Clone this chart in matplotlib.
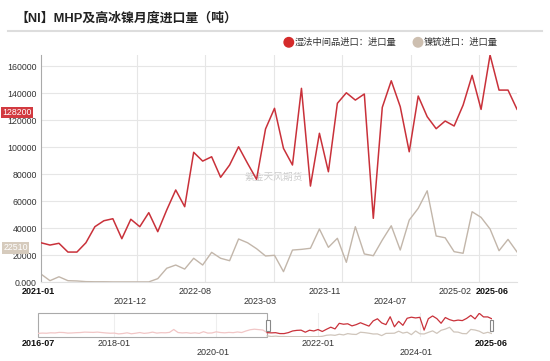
import matplotlib
matplotlib.use('Agg')
import matplotlib.pyplot as plt
from matplotlib.patches import Rectangle, Ellipse
from matplotlib.lines import Line2D
import numpy as np
import pandas as pd

plt.rcParams['font.family'] = ['Liberation Sans', 'Noto Sans CJK SC']

# monthly data, 2016-07 .. 2025-06
months = pd.date_range('2016-07-01', periods=108, freq='MS')
mhp_early = [24000, 26000, 25000, 28000, 27000, 31000,
             30000, 26000, 27000, 29000, 30000, 33000, 32000, 31000, 33000, 30000, 27000, 25000,
             26000, 20000, 23000, 28000, 21000, 25000, 30000, 24000, 27000, 33000, 26000, 29000,
             28000, 31000, 52000, 30000, 27000, 29000, 25000, 28000, 24000, 36000, 26000, 27000,
             35000, 30000, 28000, 31000, 29000, 34000, 30000, 41000, 50000, 54000, 51000, 48000]
mhp = [29300, 27600, 28900, 22400, 22400, 29300, 41200, 45600, 47100, 32300,
       46700, 41200, 51600, 37500, 53600, 68400, 56000, 96300, 89800, 93000,
       77800, 86900, 100400, 88100, 76300, 113600, 128900, 99200, 86900, 143700,
       71300, 110400, 81900, 132600, 140400, 135000, 139500, 47400, 129600, 149300,
       130100, 96700, 138000, 122700, 113800, 119500, 115800, 131300, 153300, 128100,
       168400, 142400, 142400, 128200]
matte = [6100, 1200, 4100, 1200, 1000, 500, 400, 400, 300, 300,
         300, 300, 300, 2700, 10400, 12800, 9800, 17800, 12800, 22200,
         17800, 16000, 32100, 29300, 24900, 19500, 20000, 7900, 23900, 24400,
         25200, 39500, 25900, 32600, 14800, 41200, 21000, 19700, 31300, 41900,
         23900, 46100, 54800, 67800, 34300, 33000, 22700, 21500, 52300, 48100,
         39500, 23400, 31800, 22510]

title = '【NI】MHP及高冰镍月度进口量（吨）'
name_mhp = '湿法中间品进口：进口量'
name_matte = '镍锍进口：进口量'
watermark = '紫金天风期货'

main_row1 = ['2021-01', '2022-08', '2023-11', '2025-02', '2025-06']
main_row2 = ['2021-12', '2023-03', '2024-07']
slider_row1 = ['2016-07', '2018-01', '2022-01', '2025-06']
slider_row2 = ['2020-01', '2024-01']

RED = '#c9313a'
GREY = '#c2b6aa'
TXT = '#333333'
W, H = 550, 361


def box(x0, y0, x1, y1):
    return [x0 / W, 1 - y1 / H, (x1 - x0) / W, (y1 - y0) / H]


fig = plt.figure(figsize=(5.5, 3.61), dpi=100)

# title + separator
fig.text(15 / W, 1 - 18.7 / H, title, fontsize=9.3, fontweight='bold', color='#222222', va='center')
fig.add_artist(Line2D([8 / W, 542 / W], [1 - 31 / H] * 2, color='#dddddd', lw=1.5))

# legend
fig.add_artist(Ellipse((288.8 / W, 1 - 42.3 / H), 9.5 / W, 9.5 / H, color='#d42a2a'))
fig.text(295 / W, 1 - 42.3 / H, name_mhp, fontsize=6.7, color=TXT, va='center')
fig.add_artist(Ellipse((418 / W, 1 - 42.3 / H), 9.5 / W, 9.5 / H, color='#cdbfb0'))
fig.text(424 / W, 1 - 42.3 / H, name_matte, fontsize=6.7, color=TXT, va='center')

# main chart
ax = fig.add_axes(box(41, 55, 517, 282.3))
n = len(mhp)
xi = np.arange(n)
ax.plot(xi, mhp, color=RED, lw=1.1, zorder=3)
ax.plot(xi, matte, color=GREY, lw=1.0, zorder=2)
ax.set_xlim(0, n - 1)
ax.set_ylim(0, max(mhp))

ax.set_yticks(np.arange(0, 160001, 20000))
ax.yaxis.set_major_formatter(lambda v, p: '0.000' if v == 0 else f'{int(v)}')
ax.tick_params(axis='y', length=0, pad=3, labelsize=6.3, labelcolor=TXT)
ax.grid(axis='y', color='#e6e6e6', lw=0.8)
ax.set_xticks([])
for gx in [10.7, 18.3, 25.9, 33.5, 41.2, 48.8]:
    ax.axvline(gx, color='#e6e6e6', lw=0.8, zorder=0)
for s in ['top', 'right']:
    ax.spines[s].set_visible(False)
ax.spines['left'].set_color('#aaaaaa')
ax.spines['left'].set_linewidth(0.8)
ax.spines['bottom'].set_color('#e0e0e0')
ax.spines['bottom'].set_linewidth(0.8)

xt = ax.get_xaxis_transform()
row1_x = [-0.3, 17.2, 31.6, 46.1, 52.1]
for lab, x in zip(main_row1, row1_x):
    bold = lab in (main_row1[0], main_row1[-1])
    ha = 'right' if lab == main_row1[-1] else 'center'
    ax.text(x, -0.041, lab, transform=xt, fontsize=6.5, color='#111111' if bold else TXT,
            fontweight='bold' if bold else 'normal', ha=ha, va='center')
for lab, x in zip(main_row2, [9.9, 24.4, 38.9]):
    ax.text(x, -0.085, lab, transform=xt, fontsize=6.5, color=TXT, ha='center', va='center')

# last-value badges on the y axis
yt = ax.get_yaxis_transform()
ax.text(-0.02, mhp[-1] - 2500, f'{mhp[-1]}', transform=yt, ha='right', va='center', fontsize=6.3,
        color='white', bbox=dict(boxstyle='square,pad=0.15', fc='#d23a40', ec='none'), clip_on=False)
ax.text(-0.028, matte[-1] + 3000, f'{matte[-1]}', transform=yt, ha='right', va='center', fontsize=6.3,
        color='white', bbox=dict(boxstyle='square,pad=0.15', fc='#d6cbbd', ec='none'), clip_on=False)

ax.text(0.489, 0.463, watermark, transform=ax.transAxes, fontsize=7, color='#cccccc',
        ha='center', va='center', zorder=1)

# data zoom slider
sax = fig.add_axes(box(38, 313.3, 492, 336.7))
full = mhp_early + mhp
xs = np.arange(len(full))
k = len(mhp_early)
sax.plot(xs[:k + 1], full[:k + 1], color='#f1c6c6', lw=0.9)
sax.plot(xs[k:], full[k:], color=RED, lw=0.9)
sax.plot(xs[k:], matte, color='#cfc5bb', lw=0.9)
sax.set_xlim(0, len(full) - 1)
sax.set_ylim(0, max(full))
sax.axis('off')
mlist = [m.strftime('%Y-%m') for m in months]
for lab in ['2018-01', '2020-01', '2022-01', '2024-01']:
    sax.axvline(mlist.index(lab), color='#eeeeee', lw=0.8, zorder=0)
sax.add_patch(Rectangle((0, 0), k, max(full), fc='none', ec='#aaaaaa', lw=0.8, clip_on=False))

for hx in [265.7, 489.5]:
    fig.add_artist(Rectangle((hx / W, 1 - 330.5 / H), 3.8 / W, 10.5 / H,
                             transform=fig.transFigure, fc='white', ec='#888888', lw=0.8))

st = sax.get_xaxis_transform()
for lab in slider_row1:
    bold = lab in (slider_row1[0], slider_row1[-1])
    ha = 'right' if lab == slider_row1[-1] else 'center'
    x = mlist.index(lab) + (3.6 if ha == 'right' else 0)
    sax.text(x, -0.27, lab, transform=st, fontsize=6.5, ha=ha, va='center',
             color='#111111' if bold else TXT, fontweight='bold' if bold else 'normal')
for lab in slider_row2:
    sax.text(mlist.index(lab) - 0.8, -0.66, lab, transform=st, fontsize=6.5, ha='center',
             va='center', color=TXT)

fig.savefig('out.png', dpi=100)
